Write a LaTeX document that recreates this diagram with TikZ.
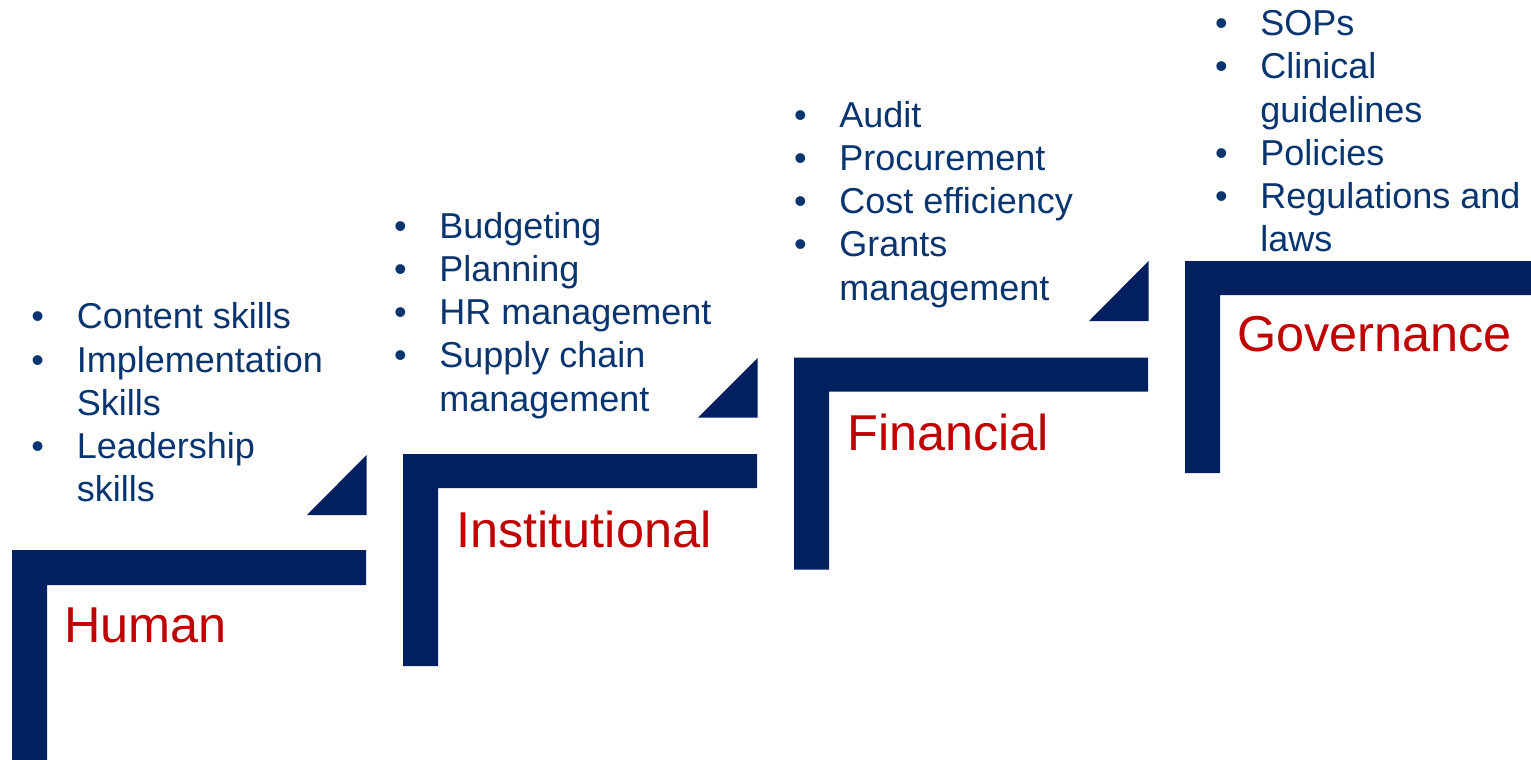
\documentclass[tikz,border=0pt]{standalone}
\usepackage{fontspec}
\setmainfont{Liberation Sans}
\definecolor{stepblue}{HTML}{002060}
\definecolor{listblue}{HTML}{08346F}
\definecolor{labelred}{HTML}{C00000}
\newcommand{\bul}{\llap{\textbullet\hspace{16.4pt}}}
\tikzset{
  stepbar/.style={fill=stepblue},
  steplist/.style={anchor=base west,inner sep=0pt,align=left,text=listblue,
    font=\fontsize{18}{21.6}\selectfont},
  steplabel/.style={anchor=base west,inner sep=0pt,text=labelred,
    font=\fontsize{25.2}{30}\selectfont}
}
\begin{document}
\begin{tikzpicture}[x=0.5pt,y=-0.5pt]
  \useasboundingbox (0,0) rectangle (1531,760);
  % steps
  \fill[stepbar] (12,550) -- (366,550) -- (366,585) -- (47,585) -- (47,760) -- (12,760) -- cycle;
  \fill[stepbar] (403,454) -- (757,454) -- (757,488) -- (438,488) -- (438,666) -- (403,666) -- cycle;
  \fill[stepbar] (794,357.5) -- (1148,357.5) -- (1148,391.5) -- (829,391.5) -- (829,569.5) -- (794,569.5) -- cycle;
  \fill[stepbar] (1185,261) -- (1531,261) -- (1531,295) -- (1220,295) -- (1220,473) -- (1185,473) -- cycle;
  % triangles
  \fill[stepbar] (307,515) -- (366.5,515) -- (366.5,455) -- cycle;
  \fill[stepbar] (698,417.5) -- (757.5,417.5) -- (757.5,358) -- cycle;
  \fill[stepbar] (1089,321) -- (1148.5,321) -- (1148.5,261) -- cycle;
  % labels
  \node[steplabel] (human) at (64,642) {Human};
  \node[steplabel] (institutional) at (456,547.5) {Institutional};
  \node[steplabel] (financial) at (847,450) {Financial};
  \node[steplabel] (governance) at (1237,351.5) {Governance};
  % lists (placed at the baseline of their last line)
  \node[steplist] (humanlist) at (76.5,501.7) {\bul Content skills\\\bul Implementation\\Skills\\\bul Leadership\\skills};
  \node[steplist] (institutionallist) at (439,411) {\bul Budgeting\\\bul Planning\\\bul HR management\\\bul Supply chain\\management};
  \node[steplist] (financiallist) at (839,300) {\bul Audit\\\bul Procurement\\\bul Cost efficiency\\\bul Grants\\management};
  \node[steplist] (governancelist) at (1260,251.7) {\bul SOPs\\\bul Clinical\\guidelines\\\bul Policies\\\bul Regulations and\\laws};
\end{tikzpicture}
\end{document}
